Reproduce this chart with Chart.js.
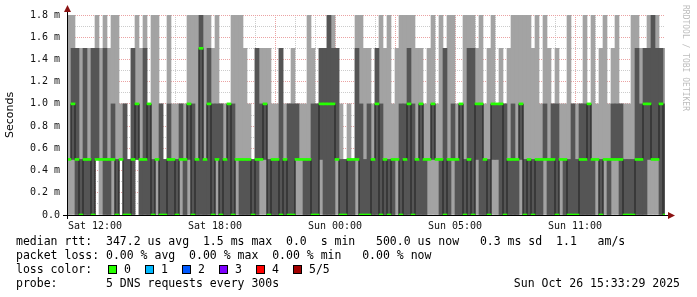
<!DOCTYPE html>
<html>
<head>
<meta charset="utf-8">
<script src="https://cdn.jsdelivr.net/npm/chart.js@4.4.1/dist/chart.umd.min.js"></script>
<style>
  html, body { margin: 0; padding: 0; background: #fff; }
  #wrap { position: relative; width: 697px; height: 297px; overflow: hidden; }
  #c { position: absolute; left: 0; top: 0; }
  .lg { position: absolute; left: 16px; font: 11.5px "DejaVu Sans Mono", monospace; color: #000; white-space: pre; line-height: 14px; }
  .box { position: absolute; top: 265px; width: 7px; height: 7px; border: 1px solid #000; }
  .bl { position: absolute; top: 262px; font: 11.5px "DejaVu Sans Mono", monospace; line-height: 14px; white-space: pre; }
  #brand { position: absolute; left: 681px; top: 5px; font: 8px "DejaVu Sans Mono", monospace; color: #bdbdbd; writing-mode: vertical-rl; white-space: pre; }
</style>
</head>
<body>
<div id="wrap">
  <canvas id="c" width="697" height="297"></canvas>
  <div id="brand">RRDTOOL / TOBI OETIKER</div>
  <div class="lg" style="top:234px">median rtt:  347.2 us avg  1.5 ms max  0.0  s min   500.0 us now   0.3 ms sd  1.1   am/s</div>
  <div class="lg" style="top:248px">packet loss: 0.00 % avg  0.00 % max  0.00 % min   0.00 % now</div>
  <div class="lg" style="top:262px">loss color:</div>
  <div id="lossKeys"></div>
  <div class="lg" style="top:276px">probe:       5 DNS requests every 300s</div>
  <div class="lg" style="top:276px;left:auto;right:17px">Sun Oct 26 15:33:29 2025</div>
</div>
<script>
// time axis: hours relative to Sat 12:00, one column = 0.2 h
var startHour = -1.4;
var endHour = 28.5;
var stepHour = 0.2;
var tickHours = [0, 6, 12, 18, 24];
var tickLabels = ['Sat 12:00', 'Sat 18:00', 'Sun 00:00', 'Sun 05:00', 'Sun 11:00'];

// sorted pings per column, ms (2 = above the top of the graph)
var pingMin = [
  0,0,0,0,0,0,0,0.5,0,0, 0,0,0,0.5,0,0,0,0.5,0,0,
  0,0,0,0,0,0,0,0,0,0, 0,0,0,0,0,0,0,0,0,0,
  0,0,0,0,0,0,0,0,0,0, 0,0,0,0,0,0,0,0,0,0,
  0,0,0,0,0,0,0,0,0,0, 0,0,0,0,0,0,0,0,0,0,
  0,0,0,0,0,0,0,0,0,0, 0,0,0,0,0,0,0,0,0,0,
  0,0,0,0,0,0,0,0,0,0, 0,0,0,0,0,0,0,0,0,0,
  0,0,0,0,0,0,0,0,0,0, 0,0,0,0,0,0,0,0,0,0,
  0,0,0,0,0,0,0,0,0,0
];
var pingLo = [
  0.5,0.5,0,0,0,0,0,0.5,0.5,0, 0,0.5,0,0.5,0,0,0,0.5,0,0,
  0,0,0.5,0,0,0,0,0,0.5,0, 0.5,0,0,0,0,0,0,0.5,0,0,
  0,0,0.5,0,0,0,0,0,0.5,0.5, 0,0,0,0,0,0,0,0.5,0.5,0,
  0,0,0,0.5,0,0,0,0.5,0,0, 0,0,0.5,0,0,0,0,0,0,0,
  0,0,0.5,0,0,0,0,0,0,0, 0.5,0.5,0.5,0,0,0,0.5,0,0,0,
  0,0,0.5,0,0,0,0.5,0.5,0,0, 0,0,0,0.5,0,0,0,0,0,0.5,
  0,0,0,0.5,0,0,0,0,0,0, 0,0,0.5,0,0.5,0,0.5,0.5,0,0,
  0,0,0,0,0,0.5,0.5,0.5,0,0
];
var median = [
  0.5,1,0.5,0,0.5,0.5,0,0.5,0.5,0.5, 0.5,0.5,0,0.5,0,0,0.5,1,0.5,0.5,
  1,0,0.5,0,0,0.5,0.5,0,0.5,0.5, 1,0,0.5,1.5,0.5,1,0,0.5,0,0.5,
  1,0,0.5,0.5,0.5,0.5,0,0.5,0.5,1, 0,0.5,0.5,0,0.5,0,0,0.5,0.5,0.5,
  0.5,0,0,1,1,1,1,0.5,0,0, 0.5,0.5,0.5,0,0,0,0.5,1,0,0.5,
  0,0.5,0.5,0,0.5,1,0,0.5,1,0.5, 0.5,1,0.5,0.5,0,0.5,0.5,0.5,1,0,
  0.5,0,1,1,0.5,0,1,1,1,0, 0.5,0.5,0.5,1,0,0.5,0,0.5,0.5,0.5,
  0.5,0.5,0,0.5,0.5,0,0,0,0.5,0.5, 1,0.5,0.5,0,0.5,0.5,0.5,0.5,0.5,0,
  0,0,0.5,0.5,1,1,0.5,0.5,1,0
];
var pingHi = [
  0.5,1.5,1.5,0.5,1.5,0.5,1.5,1.5,0.5,1.5, 0.5,1,0.5,0.5,1,0.5,1.5,1,0.5,1.5,
  1,0.5,0.5,1,0.5,1,0.5,0.5,1,0.5, 1,1,0.5,2,0.5,1.5,1,1,1,0.5,
  1,1,0.5,0.5,0.5,0.5,0.5,1.5,1,1, 0.5,0.5,0.5,1.5,0.5,1,1,1,0.5,0.5,
  0.5,1,1,1.5,1.5,2,1.5,1.5,0.5,0.5, 0.5,0.5,1.5,1,0.5,1,0.5,1.5,1,0.5,
  0.5,0.5,0.5,1,1,1.5,1,0.5,1,0.5, 0.5,1,0.5,0.5,1.5,0.5,1,0.5,1,0.5,
  1.5,1.5,1,1,0.5,0.5,1,1,1,1, 0.5,1,0.5,1,0.5,0.5,0.5,0.5,0.5,1,
  0.5,1,1,0.5,0.5,0.5,1,0.5,1,1, 1,0.5,0.5,0.5,0.5,0.5,1,1,1,0.5,
  0.5,0.5,1.5,1,1.5,1.5,2,1.5,1.5,1
];
var pingMax = [
  2,2,1.5,1.5,1.5,1.5,1.5,2,1.5,2, 1.5,2,2,1,1,0.5,1.5,2,1.5,2,
  1,2,2,1,0.5,2,1,1,1,1, 2,2,2,2,2,2,1.5,2,1,1,
  1,2,2,2,1.5,1,0.5,1.5,1.5,1.5, 1.5,1,1,1.5,1,1,1.5,1,1,1,
  2,1.5,1,1.5,1.5,2,2,1.5,1,0.5, 1,0.5,2,2,1.5,1.5,1,1.5,2,1.5,
  2,1,1.5,2,2,2,2,1.5,1.5,1, 1.5,2,1,2,1.5,2,2,1,1,2,
  2,2,1.5,2,1,1.5,2,1,1.5,1, 1.5,2,2,2,2,2,1.5,2,1,2,
  1.5,1,1.5,1,1,2,1,1,1,2, 1,2,1,1.5,2,1,1.5,2,1,1,
  1,2,2,1.5,1.5,2,2,2,1.5,1.5
];

var lossLabels = ['0', '1', '2', '3', '4', '5/5'];
var lossColors = ['#26ff00', '#00b8ff', '#0059ff', '#7e00ff', '#ff0000', '#a10000'];

(function () {
  var keys = document.getElementById('lossKeys');
  lossLabels.forEach(function (lab, i) {
    var x = 108 + i * 37;
    var b = document.createElement('div');
    b.className = 'box';
    b.style.left = x + 'px';
    b.style.background = lossColors[i];
    keys.appendChild(b);
    var t = document.createElement('div');
    t.className = 'bl';
    t.style.left = (x + 16) + 'px';
    t.textContent = lab;
    keys.appendChild(t);
  });
})();

function colX(i) { return startHour + stepHour * (i + 0.5); }

function pairs(lo, hi) {
  return lo.map(function (v, i) { return { x: colX(i), y: [v, hi[i]] }; });
}

var greenMarks = median.map(function (m, i) { return { x: colX(i), y: [m - 0.009, m + 0.009] }; });
var medianLine = median.map(function (m, i) { return { x: colX(i), y: m }; });

var axisArrows = {
  id: 'axisArrows',
  afterDraw: function (chart) {
    var c = chart.ctx, a = chart.chartArea;
    c.save();
    c.strokeStyle = '#000';
    c.lineWidth = 1;
    c.beginPath();
    c.moveTo(a.left - 4, a.bottom + 0.5);
    c.lineTo(a.right + 4, a.bottom + 0.5);
    c.moveTo(a.left + 0.5, a.bottom + 4);
    c.lineTo(a.left + 0.5, a.top - 5);
    c.stroke();
    c.fillStyle = '#8b1212';
    c.beginPath();
    c.moveTo(a.left - 3, a.top - 3);
    c.lineTo(a.left + 4, a.top - 3);
    c.lineTo(a.left + 0.5, a.top - 10);
    c.closePath();
    c.fill();
    c.beginPath();
    c.moveTo(a.right + 3, a.bottom - 3);
    c.lineTo(a.right + 3, a.bottom + 4);
    c.lineTo(a.right + 10, a.bottom + 0.5);
    c.closePath();
    c.fill();
    c.restore();
  }
};

var major = '#eba3a3', minor = '#cccccc';

new Chart(document.getElementById('c').getContext('2d'), {
  type: 'bar',
  data: {
    datasets: [
      { type: 'bar', data: greenMarks, backgroundColor: lossColors[0], order: 0 },
      { type: 'line', data: medianLine, borderColor: '#1e1e1e', borderWidth: 1, stepped: 'middle', pointRadius: 0, fill: false, order: 1 },
      { type: 'bar', data: pairs(pingLo, pingHi), backgroundColor: '#555555', order: 2 },
      { type: 'bar', data: pairs(pingMin, pingMax), backgroundColor: '#a3a3a3', order: 3 }
    ]
  },
  options: {
    responsive: false,
    animation: false,
    events: [],
    datasets: { bar: { grouped: false, barPercentage: 1, categoryPercentage: 1, borderWidth: 0 } },
    layout: { padding: { left: 0, top: 15, right: 32, bottom: 0 } },
    plugins: { legend: { display: false }, tooltip: { enabled: false } },
    scales: {
      x: {
        type: 'linear', min: startHour, max: endHour, offset: false, z: 1,
        afterFit: function (axis) { axis.height = 82; },
        afterBuildTicks: function (axis) {
          axis.ticks = axis.ticks.filter(function (t) { return Math.abs(t.value - Math.round(t.value)) < 1e-6; });
        },
        grid: {
          offset: false, drawTicks: false,
          color: function (ctx) { return ctx.tick && Math.round(ctx.tick.value) % 3 === 0 ? major : minor; }
        },
        border: { display: false, dash: [1, 1] },
        ticks: {
          stepSize: 1, autoSkip: false, maxRotation: 0, padding: 5, color: '#111',
          font: { family: 'DejaVu Sans Mono', size: 10 },
          callback: function (v) {
            var k = tickHours.indexOf(Math.round(v));
            return k >= 0 ? tickLabels[k] : '';
          }
        }
      },
      y: {
        min: 0, max: 1.8, z: 1,
        afterFit: function (axis) { axis.width = 67; },
        grid: {
          drawTicks: false,
          color: function (ctx) { return ctx.tick && Math.round(ctx.tick.value * 10) % 2 === 0 ? major : minor; }
        },
        border: { display: false, dash: [1, 1] },
        ticks: {
          stepSize: 0.1, autoSkip: false, padding: 7, color: '#111',
          font: { family: 'DejaVu Sans Mono', size: 10 },
          callback: function (v) {
            var t = Math.round(v * 10);
            if (t % 2) return '';
            return t === 0 ? '0.0' : (t / 10).toFixed(1) + ' m';
          }
        },
        title: { display: true, text: 'Seconds', color: '#000', padding: { top: 4 }, font: { family: 'DejaVu Sans', size: 11 } }
      }
    }
  },
  plugins: [axisArrows]
});
</script>
</body>
</html>
